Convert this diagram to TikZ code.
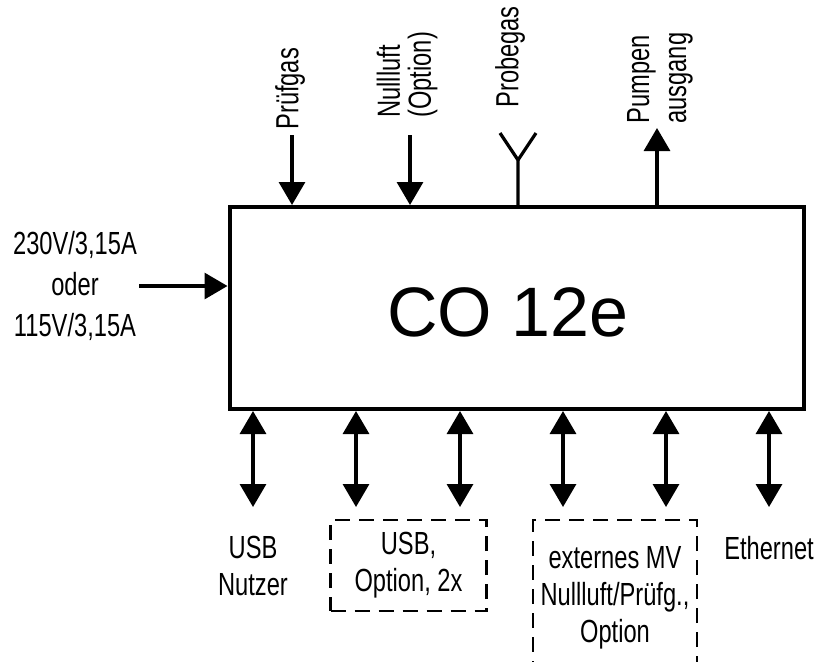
\documentclass[tikz,border=0pt]{standalone}
\usepackage{fontspec}
\setmainfont{Liberation Sans}[FakeStretch=0.74]
\newfontfamily\titlefont{Liberation Sans}
\usetikzlibrary{arrows.meta}

\tikzset{
  lbl/.style={inner sep=1pt, align=center, font=\fontsize{16}{18.5}\selectfont},
  optbox/.style={lbl, draw, dash pattern=on 7.5pt off 4.5pt, line width=1.25pt},
  port/.style={line width=1.6pt},
}

\begin{document}
\begin{tikzpicture}[x=0.5pt, y=-0.5pt, >={Triangle[length=11.5pt,width=13pt]}]
    \useasboundingbox (0,0) rectangle (824,661);

    % Grundgeraet
    \node[draw, line width=2pt, minimum width=287pt, minimum height=101pt] (co) at (516.5,308) {};
    \node[font=\titlefont\fontsize{35}{40}\selectfont] (title) at (508,312) {CO 12e};

    % Gaseingaenge und -ausgang oben
    \node[lbl, rotate=90, anchor=west] (pruef) at (290,132) {Prüfgas};
    \node[lbl, rotate=90, anchor=west, align=left, font=\fontsize{16}{15.5}\selectfont] (null) at (407,120) {Nullluft\\(Option)};
    \node[lbl, rotate=90, anchor=west] (probe) at (510,110) {Probegas};
    \node[lbl, rotate=90, anchor=west, align=left] (pumpe) at (660,126) {Pumpen\\ausgang};

    \coordinate (pin) at (292,135);
    \coordinate (nin) at (410,135);
    \coordinate (pout) at (657,128);
    \coordinate (yfork) at (518,160);
    \coordinate (yleft) at (500,133);
    \coordinate (yright) at (536,133);

    \draw[port, ->] (pin) -- (pin |- co.north);
    \draw[port, ->] (nin) -- (nin |- co.north);
    \draw[port] (co.north -| yfork) -- (yfork) -- (yleft);
    \draw[port] (yfork) -- (yright);
    \draw[port, ->] (pout |- co.north) -- (pout);

    % Netzanschluss links
    \node[lbl, font=\fontsize{16}{20.5}\selectfont] (netz) at (75,286) {230V/3,15A\\oder\\115V/3,15A};
    \draw[port, ->] (netz.east) -- (co.west |- netz.east);

    % Schnittstellen unten
    \coordinate (ba) at (253,507);
    \coordinate (bb) at (356,507);
    \coordinate (bc) at (460,507);
    \coordinate (bd) at (563,507);
    \coordinate (be) at (666,507);
    \coordinate (bf) at (769,507);

    \draw[port, <->] (co.south -| ba) -- (ba);
    \draw[port, <->] (co.south -| bb) -- (bb);
    \draw[port, <->] (co.south -| bc) -- (bc);
    \draw[port, <->] (co.south -| bd) -- (bd);
    \draw[port, <->] (co.south -| be) -- (be);
    \draw[port, <->] (co.south -| bf) -- (bf);

    \node[lbl] (usbn) at (253,566) {USB\\Nutzer};
    \node[optbox, minimum width=78pt, minimum height=45.5pt] (usbo) at (408.5,565.5) {USB,\\Option, 2x};
    \node[optbox, minimum width=82pt, minimum height=77.5pt] (mv) at (615,597.5) {externes MV\\Nullluft/Prüfg.,\\Option};
    \node[lbl] (eth) at (769,548) {Ethernet};
\end{tikzpicture}
\end{document}
